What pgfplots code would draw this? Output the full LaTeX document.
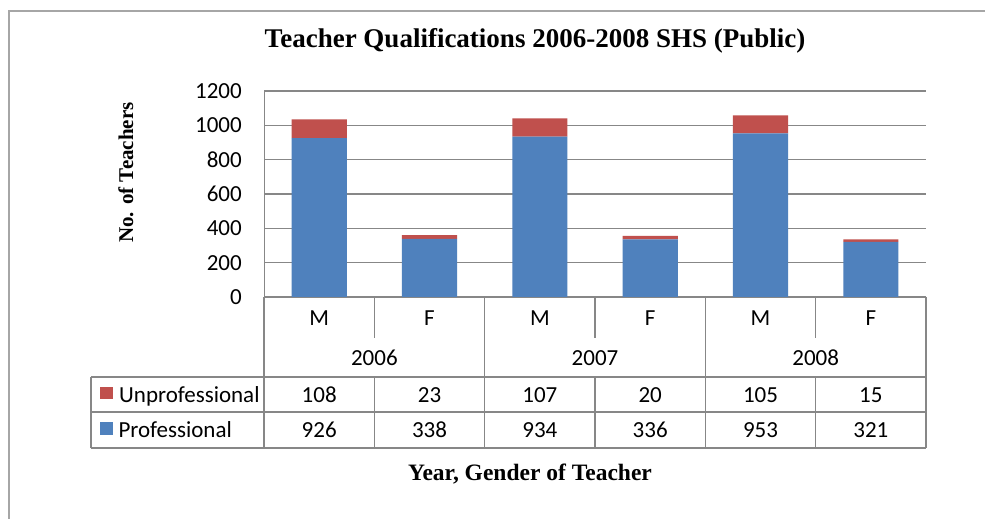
\documentclass[border=0pt]{standalone}
\usepackage{pgfplots}
\pgfplotsset{compat=1.18}
\usepackage{fontspec}
\setmainfont{Carlito}
\newfontfamily\tnr{Liberation Serif}
\definecolor{profblue}{HTML}{4F81BD}
\definecolor{unprofred}{HTML}{C0504D}
\definecolor{gridgray}{HTML}{878787}
\definecolor{framegray}{HTML}{A6A6A6}
\begin{document}
\begin{tikzpicture}
\path[use as bounding box] (0pt,0pt) rectangle (985pt,519pt);
\fill[white] (0pt,0pt) rectangle (985pt,519pt);
\draw[framegray, line width=2pt] (8.5pt,0pt) -- (8.5pt,508pt) -- (985pt,508pt);
\begin{axis}[
  at={(264pt,222pt)}, anchor=south west,
  scale only axis, width=662pt, height=206pt,
  xmin=-0.5, xmax=5.5, ymin=0, ymax=1200,
  ytick={0,200,...,1200}, xtick=\empty,
  ybar stacked, bar width=0.5,
  axis line style={draw=none},
  major tick length=0pt,
  ymajorgrids, grid style={gridgray, line width=1.6pt},
  /pgf/number format/assume math mode=true,
  /pgf/number format/1000 sep={},
  yticklabel style={font=\fontsize{23}{23}\selectfont, anchor=east, inner sep=0pt, xshift=-22pt},
]
\addplot[fill=profblue, draw=none] coordinates {(0,926) (1,338) (2,934) (3,336) (4,953) (5,321)};
\addplot[fill=unprofred, draw=none] coordinates {(0,108) (1,23) (2,107) (3,20) (4,105) (5,15)};
\draw[gridgray, line width=1.6pt] (rel axis cs:0,1) -- (rel axis cs:0,0) -- (rel axis cs:1,0);
\end{axis}
% data table
\begin{scope}[gridgray, line width=1.6pt]
\foreach \k in {0,2,4,6} {
  \pgfmathsetmacro{\xx}{264+110.333*\k}
  \draw (\xx pt,222pt) -- (\xx pt,71pt);
}
\foreach \k in {1,3,5} {
  \pgfmathsetmacro{\xx}{264+110.333*\k}
  \draw (\xx pt,222pt) -- (\xx pt,181pt);
  \draw (\xx pt,142pt) -- (\xx pt,71pt);
}
\draw (91pt,142pt) -- (926pt,142pt);
\draw (91pt,107pt) -- (926pt,107pt);
\draw (91pt,71pt) -- (926pt,71pt) ;
\draw (91pt,142pt) -- (91pt,71pt);
\end{scope}
\foreach \lab [count=\i from 0] in {M,F,M,F,M,F} {
  \pgfmathsetmacro{\xx}{264+110.333*(\i+0.5)}
  \node[anchor=base, inner sep=0pt, font=\fontsize{23}{23}\selectfont] at (\xx pt,193.3pt) {\lab};
}
\foreach \lab [count=\i from 0] in {2006,2007,2008} {
  \pgfmathsetmacro{\xx}{264+110.333*(2*\i+1)}
  \node[anchor=base, inner sep=0pt, font=\fontsize{23}{23}\selectfont] at (\xx pt,153pt) {\lab};
}
\foreach \lab [count=\i from 0] in {108,23,107,20,105,15} {
  \pgfmathsetmacro{\xx}{264+110.333*(\i+0.5)}
  \node[anchor=base, inner sep=0pt, font=\fontsize{23}{23}\selectfont] at (\xx pt,116pt) {\lab};
}
\foreach \lab [count=\i from 0] in {926,338,934,336,953,321} {
  \pgfmathsetmacro{\xx}{264+110.333*(\i+0.5)}
  \node[anchor=base, inner sep=0pt, font=\fontsize{23}{23}\selectfont] at (\xx pt,81.5pt) {\lab};
}
\fill[unprofred] (100pt,120pt) rectangle (113pt,132pt);
\fill[profblue] (100pt,84pt) rectangle (113pt,97pt);
\node[anchor=base west, inner sep=0pt, font=\fontsize{23}{23}\selectfont] at (119pt,116pt) {Unprofessional};
\node[anchor=base west, inner sep=0pt, font=\fontsize{23}{23}\selectfont] at (118.3pt,81.5pt) {Professional};
% titles
\node[anchor=base, inner sep=0pt, font=\tnr\bfseries\fontsize{27}{27}\selectfont] at (535pt,471pt) {Teacher Qualifications 2006-2008 SHS (Public)};
\node[anchor=base, inner sep=0pt, rotate=90, font=\tnr\bfseries\fontsize{21}{21}\selectfont] at (133pt,346.5pt) {No. of Teachers};
\node[anchor=base, inner sep=0pt, font=\tnr\bfseries\fontsize{23.5}{23.5}\selectfont] at (530pt,38pt) {Year, Gender of Teacher};
\end{tikzpicture}
\end{document}
